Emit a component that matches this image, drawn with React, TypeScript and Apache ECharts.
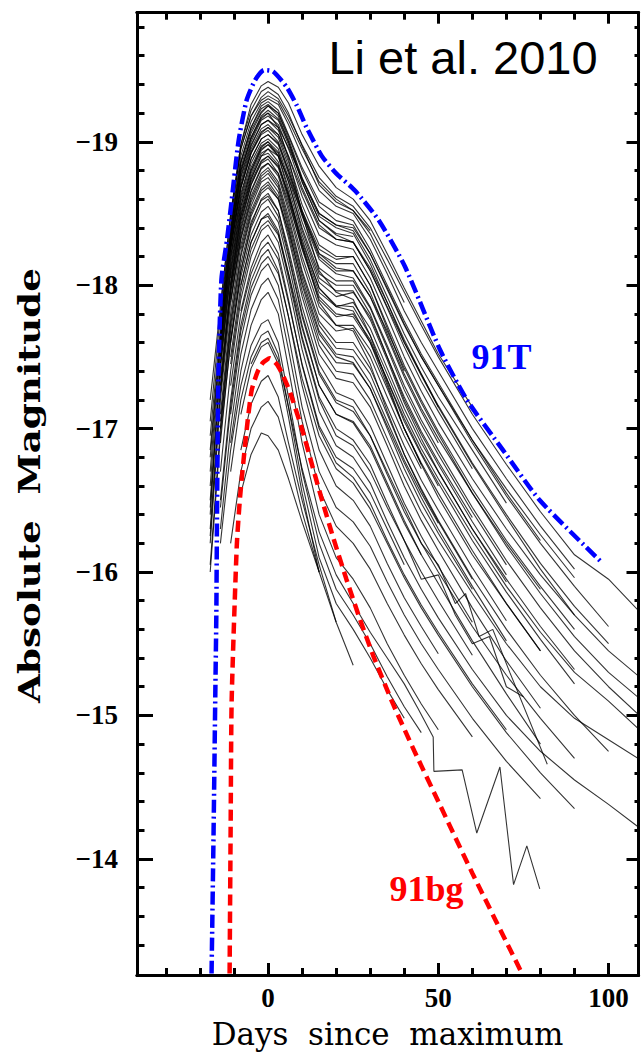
import React, { useEffect, useRef } from "react";
import * as echarts from "echarts";

const _ = null;

// Day grid shared by the sampled light curves
const DAYS = [-17, -14, -11, -8, -5, -2, 0, 3, 6, 10, 15, 20, 25, 30, 35, 40, 45, 50, 60, 70, 80, 90, 100, 110];

// Individual SN Ia light curves (absolute magnitude at each DAYS entry)
const C01 = [_, -17.85, -18.5, -18.98, -19.26, -19.39, -19.42, -19.38, -19.27, -19.05, -18.83, -18.68, -18.6, -18.45, -18.22, -17.98, -17.75, -17.52, -17.15, _, _, _, _, _];
const C02 = [-17.2, -17.85, -18.48, -18.95, -19.18, -19.31, -19.35, -19.3, -19.18, -18.98, -18.75, -18.62, -18.55, -18.4, -18.18, -17.95, -17.72, -17.5, -17.1, -16.75, -16.42, -16.12, -15.95, -15.7];
const C03 = [-17.05, -17.8, -18.42, -18.9, -19.14, -19.27, -19.3, -19.26, -19.12, -18.9, -18.66, -18.55, -18.5, -18.32, -18.08, -17.82, -17.6, -17.4, -17.0, -16.65, -16.32, -16.02, _, _];
const C04 = [_, -17.75, -18.38, -18.86, -19.1, -19.25, -19.28, -19.22, -19.05, -18.82, -18.58, -18.5, -18.45, -18.25, -18.0, -17.75, -17.52, -17.32, -16.92, -16.55, -16.22, _, _, _];
const C05 = [-16.95, -17.7, -18.35, -18.82, -19.06, -19.2, -19.25, -19.2, -19.02, -18.75, -18.5, -18.42, -18.38, -18.18, -17.92, -17.66, -17.43, -17.22, -16.85, -16.48, _, _, _, _];
const C06 = [_, _, -18.32, -18.8, -19.03, -19.17, -19.2, -19.15, -18.98, -18.72, -18.45, -18.35, -18.3, -18.1, -17.85, -17.6, -17.37, -17.15, -16.75, -16.38, -16.02, -15.7, -15.45, -15.25];
const C07 = [-16.85, -17.65, -18.3, -18.78, -19.03, -19.18, -19.22, -19.16, -19.0, -18.74, -18.48, -18.4, -18.36, -18.15, -17.88, -17.6, -17.38, -17.15, _, _, _, _, _, _];
const C08 = [_, -17.6, -18.28, -18.72, -18.97, -19.12, -19.15, -19.08, -18.9, -18.62, -18.35, -18.28, -18.25, -18.05, -17.78, -17.5, -17.26, -17.04, -16.65, -16.3, -15.98, -15.7, _, _];
const C09 = [-16.6, -17.55, -18.25, -18.68, -18.93, -19.07, -19.1, -19.03, -18.83, -18.52, -18.22, -18.15, -18.15, -17.95, -17.66, -17.38, -17.14, -16.93, -16.55, -16.2, -15.88, _, _, _];
const C10 = [_, _, -18.2, -18.62, -18.88, -19.02, -19.05, -18.98, -18.78, -18.48, -18.18, -18.08, -18.05, -17.85, -17.58, -17.3, -17.06, -16.85, -16.45, -16.08, -15.75, -15.45, -15.2, -14.98];
const C11 = [_, -17.5, -18.15, -18.58, -18.82, -18.97, -19.0, -18.93, -18.72, -18.4, -18.08, -18.0, -18.0, -17.8, -17.5, -17.2, -16.96, -16.75, -16.35, -15.98, _, _, _, _];
const C12 = [-16.4, -17.45, -18.1, -18.55, -18.8, -18.95, -18.98, -18.9, -18.68, -18.35, -18.02, -17.92, -17.95, -17.78, -17.5, -17.22, -16.98, -16.77, -16.38, _, _, _, _, _];
const C13 = [_, _, -18.05, -18.5, -18.76, -18.92, -18.95, -18.86, -18.62, -18.28, -17.95, -17.85, -17.88, -17.7, -17.42, -17.14, -16.9, -16.7, -16.3, -15.95, -15.62, -15.32, _, _];
const C14 = [_, -17.35, -18.02, -18.48, -18.74, -18.9, -18.92, -18.84, -18.62, -18.3, -17.98, -17.86, -17.85, -17.65, -17.38, -17.1, -16.86, -16.65, -16.26, -15.9, -15.58, -15.3, -15.1, -14.88];
const C15 = [_, _, _, -18.45, -18.72, -18.87, -18.9, -18.82, -18.6, -18.25, -17.9, -17.78, -17.8, -17.62, -17.34, -17.05, -16.82, -16.6, _, _, _, _, _, _];
const C16 = [-16.3, -17.3, -17.98, -18.42, -18.7, -18.85, -18.88, -18.78, -18.55, -18.2, -17.85, -17.72, -17.72, -17.55, -17.28, -17.0, -16.76, -16.55, -16.15, -15.78, -15.45, _, _, _];
const C17 = [_, -17.25, -17.95, -18.4, -18.66, -18.82, -18.85, -18.76, -18.52, -18.16, -17.8, -17.68, -17.7, -17.5, -17.22, -16.95, -16.72, _, _, _, _, _, _, _];
const C18 = [_, _, -17.9, -18.35, -18.62, -18.78, -18.82, -18.72, -18.48, -18.1, -17.75, -17.6, -17.6, -17.42, -17.15, -16.88, -16.64, -16.43, -16.03, -15.66, _, _, _, _];
const C19 = [-16.2, -17.2, -17.88, -18.33, -18.6, -18.76, -18.8, -18.7, -18.45, -18.08, -17.72, -17.56, -17.55, -17.38, -17.1, -16.82, -16.58, -16.36, -15.96, -15.6, -15.28, -15.0, -14.75, _];
const C20 = [_, -17.1, -17.8, -18.28, -18.55, -18.72, -18.75, -18.65, -18.4, -18.0, -17.62, -17.46, -17.45, -17.28, -17.0, -16.72, -16.48, -16.27, -15.88, _, _, _, _, _];
const C21 = [_, _, _, -18.25, -18.52, -18.68, -18.72, -18.62, -18.36, -17.96, -17.58, -17.4, -17.38, -17.2, -16.93, -16.66, -16.42, -16.22, -15.85, -15.5, -15.2, -14.98, -14.83, -14.68];
const C22 = [_, -17.05, -17.75, -18.22, -18.5, -18.66, -18.7, -18.6, -18.33, -17.92, -17.52, -17.35, -17.32, -17.15, -16.88, -16.6, -16.36, -16.15, -15.75, -15.38, -15.05, _, _, _];
const C23 = [_, -17.65, -18.33, -18.76, -19.0, -19.15, -19.18, -19.12, -18.95, -18.68, -18.42, -18.32, -18.3, -18.1, -17.84, -17.57, -17.33, -17.12, -16.72, _, _, _, _, _];
const C24 = [-16.7, -17.6, -18.28, -18.7, -18.95, -19.09, -19.12, -19.05, -18.86, -18.56, -18.28, -18.2, -18.2, -18.0, -17.72, -17.44, -17.2, -16.98, -16.58, -16.22, -15.9, -15.6, _, _];
const C25 = [_, _, -18.25, -18.68, -18.92, -19.05, -19.08, -19.0, -18.8, -18.5, -18.2, -18.1, -18.1, -17.92, -17.64, -17.36, -17.12, -16.9, _, _, _, _, _, _];
const C26 = [_, -17.55, -18.18, -18.6, -18.85, -18.99, -19.02, -18.95, -18.75, -18.44, -18.12, -18.03, -18.03, -17.84, -17.56, -17.27, -17.03, -16.82, -16.42, -16.05, _, _, _, _];
const C27 = [_, _, -18.45, -18.95, -19.18, -19.29, -19.32, -19.28, -19.15, -18.95, -18.72, -18.6, -18.52, -18.36, -18.12, -17.88, _, _, _, _, _, _, _, _];
const C28 = [_, -17.75, -18.4, -18.86, -19.1, -19.23, -19.26, -19.2, -19.04, -18.8, -18.55, -18.45, -18.42, -18.22, -17.97, -17.72, -17.5, -17.3, -16.9, -16.53, -16.2, -15.9, -15.62, _];
const C29 = [_, -16.9, -17.62, -18.1, -18.4, -18.56, -18.6, -18.48, -18.2, -17.78, -17.38, -17.18, -17.12, -16.95, -16.68, -16.42, -16.2, -16.0, -15.62, -15.28, -14.98, -14.7, _, _];
const C30 = [_, _, -17.5, -18.0, -18.3, -18.46, -18.5, -18.38, -18.08, -17.64, -17.22, -17.0, -16.92, -16.75, -16.48, -16.22, -16.0, -15.8, -15.42, _, _, _, _, _];
const C31 = [_, -16.7, -17.4, -17.9, -18.2, -18.38, -18.42, -18.3, -18.0, -17.55, -17.12, -16.88, -16.8, -16.62, -16.35, -16.1, -15.88, -15.68, -15.32, -15.0, -14.75, -14.55, -14.38, -14.2];
const C32 = [_, _, _, -17.82, -18.12, -18.3, -18.35, -18.22, -17.9, -17.44, -17.0, -16.76, -16.66, -16.48, -16.22, -15.98, -15.77, -15.58, -15.22, -14.9, _, _, _, _];
const C33 = [_, -16.5, -17.2, -17.72, -18.03, -18.2, -18.25, -18.1, -17.78, -17.3, -16.85, -16.6, -16.5, -16.32, -16.06, -15.82, -15.62, -15.43, _, _, _, _, _, _];
const C34 = [_, _, -17.1, -17.62, -17.93, -18.1, -18.15, -18.0, -17.65, -17.15, -16.7, -16.45, -16.35, -16.18, -15.93, -15.7, -15.5, -15.32, -14.98, -14.68, -14.42, _, _, _];
const C35 = [_, -16.3, -17.0, -17.52, -17.83, -18.0, -18.05, -17.9, -17.55, -17.05, -16.58, -16.32, -16.2, -16.02, -15.78, -15.56, -15.36, -15.18, -14.85, _, _, _, _, _];
const C36 = [-16.0, -16.95, -17.6, -18.06, -18.35, -18.51, -18.55, -18.44, -18.15, -17.72, -17.3, -17.1, -17.04, -16.86, -16.6, -16.34, -16.12, _, _, _, _, _, _, _];
const C37 = [_, _, -16.9, -17.4, -17.72, -17.9, -17.95, -17.8, -17.42, -16.9, -16.4, -16.1, -15.95, -15.75, -15.5, -15.28, -15.08, -14.9, _, _, _, _, _, _];
const C38 = [_, -16.2, -16.85, -17.3, -17.58, -17.73, -17.76, -17.6, -17.22, -16.7, -16.2, -15.88, -15.7, -15.5, -15.27, -15.06, -14.88, _, _, _, _, _, _, _];
const C39 = [_, _, -16.7, -17.2, -17.5, -17.65, -17.68, -17.52, -17.15, -16.62, -16.1, -15.78, -15.6, -15.4, -15.18, -14.98, _, _, _, _, _, _, _, _];
const C40 = [_, _, _, -17.1, -17.42, -17.57, -17.6, -17.45, -17.08, -16.55, -16.0, _, _, _, _, _, _, _, _, _, _, _, _, _];
const C41 = [_, _, _, -16.85, -17.17, -17.33, -17.37, -17.22, -16.9, -16.5, -16.05, -15.65, _, _, _, _, _, _, _, _, _, _, _, _];
const C42 = [_, _, -16.2, -16.7, -17.0, -17.15, -17.19, -17.08, -16.82, -16.42, -16.0, -15.65, -15.35, _, _, _, _, _, _, _, _, _, _, _];
const C43 = [_, _, _, -16.55, -16.82, -16.97, -16.95, -16.85, -16.65, -16.35, -16.0, _, _, _, _, _, _, _, _, _, _, _, _, _];
const C44 = [_, _, -18.48, -18.98, -19.22, -19.35, -19.38, -19.33, -19.2, -18.97, -18.7, -18.58, -18.52, -18.38, _, _, _, _, _, _, _, _, _, _];
const C45 = [_, -17.7, -18.35, -18.8, -19.02, -19.16, -19.2, -19.1, -18.88, -18.5, -18.1, -17.95, -17.9, -17.65, -17.32, -17.0, -16.75, -16.52, -16.12, -15.78, -15.45, _, _, _];
const C46 = [-16.8, -17.62, -18.3, -18.75, -18.98, -19.12, -19.15, -19.1, -18.96, -18.74, -18.5, -18.42, -18.4, -18.22, -17.98, -17.73, -17.5, -17.3, -16.92, -16.58, -16.26, -15.96, _, _];
const C47 = [_, -17.5, -18.2, -18.64, -18.88, -19.02, -19.05, -18.99, -18.8, -18.52, -18.25, -18.18, -18.2, -18.0, -17.7, -17.4, _, _, _, _, _, _, _, _];
const C48 = [-16.5, -17.45, -18.12, -18.55, -18.8, -18.96, -19.0, -18.9, -18.65, -18.28, -17.88, -17.72, -17.68, -17.45, -17.12, -16.82, -16.57, -16.35, -15.95, _, _, _, _, _];
const C49 = [_, _, -18.0, -18.48, -18.74, -18.9, -18.95, -18.9, -18.75, -18.5, -18.22, -18.12, -18.1, -17.92, -17.68, -17.42, -17.18, -16.96, -16.55, -16.18, -15.85, -15.55, -15.3, -15.1];
const C50 = [_, -17.3, -18.0, -18.45, -18.7, -18.86, -18.9, -18.83, -18.64, -18.32, -17.98, -17.85, -17.82, -17.6, -17.3, -17.0, -16.75, _, _, _, _, _, _, _];
const C51 = [-16.25, -17.25, -17.95, -18.38, -18.65, -18.81, -18.85, -18.78, -18.58, -18.26, -17.92, -17.8, -17.78, -17.6, -17.34, -17.07, -16.83, -16.62, -16.22, -15.86, -15.53, -15.22, _, _];
const C52 = [_, _, -17.88, -18.32, -18.58, -18.74, -18.78, -18.68, -18.42, -18.05, -17.68, -17.52, -17.5, -17.32, -17.05, -16.78, -16.55, -16.34, _, _, _, _, _, _];
const C53 = [_, -17.0, -17.72, -18.2, -18.48, -18.64, -18.68, -18.6, -18.38, -18.02, -17.66, -17.5, -17.46, -17.28, -17.02, -16.76, -16.52, -16.3, -15.9, -15.52, _, _, _, _];
const C54 = [-16.05, -17.0, -17.68, -18.15, -18.44, -18.59, -18.62, -18.52, -18.25, -17.85, -17.45, -17.25, -17.2, -17.02, -16.75, -16.48, -16.25, -16.04, -15.65, _, _, _, _, _];
const C55 = [_, _, -17.45, -17.95, -18.25, -18.41, -18.45, -18.35, -18.08, -17.7, -17.3, -17.1, -17.05, -16.88, -16.62, -16.36, -16.12, -15.92, -15.52, -15.15, -14.8, _, _, _];
const C56 = [_, _, -17.3, -17.8, -18.08, -18.25, -18.3, -18.18, -17.88, -17.45, -17.02, -16.8, -16.72, -16.55, -16.3, -16.05, _, _, _, _, _, _, _, _];
const C57 = [_, _, -18.38, -18.85, -19.08, -19.21, -19.25, -19.18, -19.0, -18.72, -18.45, -18.36, -18.34, _, _, _, _, _, _, _, _, _, _, _];
const C58 = [_, -17.58, -18.25, -18.68, -18.92, -19.06, -19.1, -19.05, -18.9, -18.66, -18.4, -18.32, -18.3, -18.12, -17.88, -17.62, -17.38, -17.16, -16.76, -16.4, -16.06, -15.76, -15.5, _];
const C59 = [-16.45, -17.42, -18.08, -18.52, -18.78, -18.94, -18.98, -18.92, -18.72, -18.38, -18.05, -17.96, -17.96, -17.76, -17.48, -17.18, -16.93, -16.7, -16.3, -15.93, _, _, _, _];
const C60 = [_, -16.45, -17.15, -17.68, -17.98, -18.15, -18.2, -18.08, -17.78, -17.35, -16.95, -16.72, -16.62, -16.44, -16.2, -15.96, -15.75, -15.56, -15.2, -14.88, -14.6, -14.35, _, _];

// Irregularly sampled curves ([day, magnitude])
const JAG1 = [[-5, -17.45], [-2, -17.6], [0, -17.63], [3, -17.48], [6, -17.15], [10, -16.72], [15, -16.28], [20, -15.98], [25, -15.78], [30, -15.58], [35, -15.4], [40, -15.22], [44, -15.05], [48.5, -14.85], [48.7, -14.61], [57, -14.62], [61.3, -14.18], [68.1, -14.64], [72.1, -13.82], [76, -14.09], [79.8, -13.79]];
const JAG2 = [[-8, -18.0], [-5, -18.3], [-2, -18.46], [0, -18.48], [3, -18.36], [6, -18.05], [10, -17.62], [15, -17.2], [20, -16.95], [25, -16.88], [30, -16.7], [35, -16.45], [40, -16.22], [45, -15.95], [50, -15.98], [55, -15.7], [60, -15.5], [65, -15.55], [70, -15.2], [75, -15.13]];
const JAG3 = [[-11, -17.6], [-8, -18.1], [-5, -18.42], [-2, -18.6], [0, -18.64], [3, -18.52], [6, -18.22], [10, -17.8], [15, -17.4], [20, -17.2], [25, -17.15], [30, -16.95], [35, -16.7], [40, -16.45], [45, -16.2], [50, -16.05], [55, -15.78], [58, -15.85], [62, -15.55], [66, -15.6], [71, -15.3], [82, -14.66]];

// Template curves
const SN91T = [[-16.6, -13.2], [-16.0, -14.2], [-15.5, -15.15], [-15.2, -15.7], [-15.0, -16.4], [-14.6, -17.35], [-13.7, -18.04], [-12.1, -18.31], [-10.7, -18.59], [-8.7, -19.0], [-6.3, -19.29], [-3.8, -19.43], [-1.2, -19.5], [1.5, -19.49], [5.5, -19.38], [8.5, -19.25], [11.3, -19.1], [15.8, -18.9], [20, -18.78], [25.5, -18.66], [32.6, -18.45], [40.2, -18.13], [50.5, -17.55], [58.4, -17.2], [69, -16.85], [79.8, -16.5], [98.3, -16.06]];
const SN91BG = [[-11.3, -13.2], [-11.0, -14.2], [-10.7, -15.1], [-9.2, -16.18], [-8.2, -16.53], [-6.3, -16.99], [-4.8, -17.27], [-3, -17.4], [-1.5, -17.46], [0.5, -17.49], [2.5, -17.45], [4, -17.39], [6.5, -17.25], [10.3, -16.97], [13, -16.74], [16, -16.49], [19, -16.25], [23, -15.95], [27, -15.67], [31, -15.41], [36.7, -15.08], [43, -14.75], [50, -14.4], [60, -13.9], [74.6, -13.2]];

const GRID_CURVES = [C01, C02, C03, C04, C05, C06, C07, C08, C09, C10, C11, C12, C13, C14, C15, C16, C17, C18, C19, C20, C21, C22, C23, C24, C25, C26, C27, C28, C29, C30, C31, C32, C33, C34, C35, C36, C37, C38, C39, C40, C41, C42, C43, C44, C45, C46, C47, C48, C49, C50, C51, C52, C53, C54, C55, C56, C57, C58, C59, C60];
const PAIR_CURVES = [JAG1, JAG2, JAG3];

// Axes
const X_MIN = -38.5;
const X_MAX = 108.8;
const Y_MIN = -19.9;
const Y_MAX = -13.19;
const X_MAJOR = [0, 50, 100];
const X_MINOR = [-30, -20, -10, 0, 10, 20, 30, 40, 50, 60, 70, 80, 90, 100];
const Y_MAJOR = [-19, -18, -17, -16, -15, -14];
const Y_MINOR = [-19.8, -19.6, -19.4, -19.2, -19.0, -18.8, -18.6, -18.4, -18.2, -18.0, -17.8, -17.6, -17.4, -17.2, -17.0, -16.8, -16.6, -16.4, -16.2, -16.0, -15.8, -15.6, -15.4, -15.2, -15.0, -14.8, -14.6, -14.4, -14.2, -14.0, -13.8, -13.6, -13.4];

const GRID = { left: 137, right: 5.5, top: 12.7, bottom: 83 };

function axisDef(kind: "x" | "y", gridIndex: number, position: string, ticks: number[], len: number, labels: boolean) {
  const isX = kind === "x";
  return {
    type: "value",
    gridIndex,
    position,
    min: isX ? X_MIN : Y_MIN,
    max: isX ? X_MAX : Y_MAX,
    inverse: !isX,
    splitLine: { show: false },
    axisLine: { show: true, onZero: false, lineStyle: { color: "#000", width: 3 } },
    axisTick: { show: true, inside: true, length: len, customValues: ticks, lineStyle: { color: "#000", width: 3 } },
    axisLabel: labels
      ? {
          show: true,
          customValues: isX ? X_MAJOR : Y_MAJOR,
          margin: isX ? 9 : 19,
          color: "#000",
          fontFamily: "Liberation Serif",
          fontWeight: "bold",
          fontSize: 27,
          formatter: (v: number) => String(v).replace("-", "\u2212"),
        }
      : { show: false },
  };
}

export default function App() {
  const ref = useRef<HTMLDivElement>(null);
  useEffect(() => {
    document.body.style.margin = "0";
    const chart = echarts.init(ref.current!, null, { renderer: "svg" });
    const thin = { color: "#000", width: 1.1, opacity: 0.8 };
    const black = GRID_CURVES.map((vals) => ({
      type: "line",
      xAxisIndex: 0,
      yAxisIndex: 0,
      data: DAYS.map((d, i) => [d, vals[i]]).filter((p) => p[1] !== null),
      symbol: "none",
      silent: true,
      lineStyle: thin,
    }));
    const blackPairs = PAIR_CURVES.map((pts) => ({
      type: "line",
      xAxisIndex: 0,
      yAxisIndex: 0,
      data: pts,
      symbol: "none",
      silent: true,
      lineStyle: thin,
    }));
    chart.setOption({
      animation: false,
      backgroundColor: "#fff",
      grid: [{ ...GRID }, { ...GRID }],
      xAxis: [
        axisDef("x", 0, "bottom", X_MAJOR, 12, true),
        axisDef("x", 0, "top", X_MAJOR, 11, false),
        axisDef("x", 1, "bottom", X_MINOR, 7, false),
        axisDef("x", 1, "top", X_MINOR, 7, false),
      ],
      yAxis: [
        axisDef("y", 0, "left", Y_MAJOR, 16, true),
        axisDef("y", 0, "right", Y_MAJOR, 12, false),
        axisDef("y", 1, "left", Y_MINOR, 7.5, false),
        axisDef("y", 1, "right", Y_MINOR, 4, false),
      ],
      series: [
        ...black,
        ...blackPairs,
        {
          type: "line",
          name: "91T",
          xAxisIndex: 0,
          yAxisIndex: 0,
          data: SN91T,
          symbol: "none",
          silent: true,
          smooth: 0.2,
          z: 5,
          lineStyle: { color: "#0000ff", width: 4.5, type: [13, 4, 2, 4] },
        },
        {
          type: "line",
          name: "91bg",
          xAxisIndex: 0,
          yAxisIndex: 0,
          data: SN91BG,
          symbol: "none",
          silent: true,
          smooth: 0.2,
          z: 5,
          lineStyle: { color: "#ff0000", width: 4.5, type: [11, 6] },
        },
      ],
      graphic: [
        {
          type: "text",
          x: 463,
          y: 57.5,
          z: 10,
          style: { text: "Li et al. 2010", fill: "#000", fontFamily: "Liberation Sans", fontSize: 47, align: "center", verticalAlign: "middle" },
        },
        {
          type: "text",
          x: 501.5,
          y: 357,
          z: 10,
          style: { text: "91T", fill: "#0000ff", fontFamily: "Liberation Serif", fontWeight: "bold", fontSize: 36, align: "center", verticalAlign: "middle" },
        },
        {
          type: "text",
          x: 426.5,
          y: 889,
          z: 10,
          style: { text: "91bg", fill: "#ff0000", fontFamily: "Liberation Serif", fontWeight: "bold", fontSize: 36, align: "center", verticalAlign: "middle" },
        },
        {
          type: "text",
          x: 387.5,
          y: 1034,
          z: 10,
          style: { text: "Days  since  maximum", fill: "#000", fontFamily: "DejaVu Serif", fontSize: 31, align: "center", verticalAlign: "middle" },
        },
        {
          type: "text",
          x: 29,
          y: 485.5,
          rotation: Math.PI / 2,
          scaleX: 1.24,
          z: 10,
          style: { text: "Absolute  Magnitude", fill: "#000", fontFamily: "DejaVu Serif", fontWeight: "bold", fontSize: 30, align: "center", verticalAlign: "middle" },
        },
      ],
    });
    return () => chart.dispose();
  }, []);
  return <div ref={ref} style={{ width: 644, height: 1058 }} />;
}
